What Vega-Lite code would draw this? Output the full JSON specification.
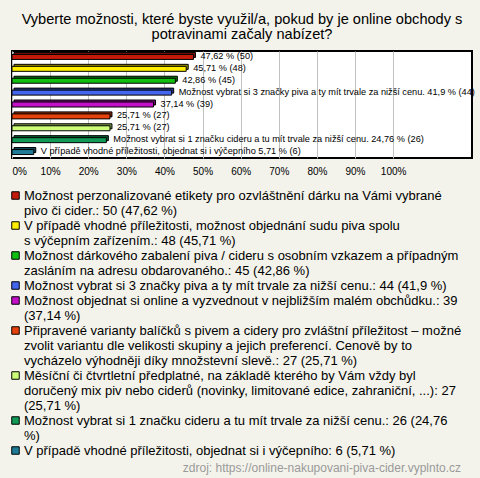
{
  "$schema": "https://vega.github.io/schema/vega-lite/v6.json",
  "width": 460,
  "height": 107,
  "padding": {"left": 11, "top": 12, "right": 9, "bottom": 4},
  "background": "#f3f3eb",
  "config": {
    "font": "Liberation Sans",
    "view": {"fill": "#ffffff", "stroke": "#000000", "strokeWidth": 2}
  },
  "title": {
    "text": ["Vyberte možnosti, které byste využil/a, pokud by je online obchody s", "potravinami začaly nabízet?"],
    "fontSize": 14.6,
    "fontWeight": "normal",
    "lineHeight": 14.5,
    "color": "#000000",
    "anchor": "middle",
    "offset": 9.5
  },
  "data": {
    "values": [
      {"legend": "Možnost perzonalizované etikety pro ozvláštnění dárku na Vámi vybrané\npivo či cider.: 50 (47,62 %)", "pct": 47.62, "count": 50, "barLabel": "47,62 % (50)"},
      {"legend": "V případě vhodné příležitosti, možnost objednání sudu piva spolu\ns výčepním zařízením.: 48 (45,71 %)", "pct": 45.71, "count": 48, "barLabel": "45,71 % (48)"},
      {"legend": "Možnost dárkového zabalení piva / cideru s osobním vzkazem a případným\nzasláním na adresu obdarovaného.: 45 (42,86 %)", "pct": 42.86, "count": 45, "barLabel": "42,86 % (45)"},
      {"legend": "Možnost vybrat si 3 značky piva a ty mít trvale za nižší cenu.: 44 (41,9 %)", "pct": 41.9, "count": 44, "barLabel": "Možnost vybrat si 3 značky piva a ty mít trvale za nižší cenu. 41,9 % (44)"},
      {"legend": "Možnost objednat si online a vyzvednout v nejbližším malém obchůdku.: 39\n(37,14 %)", "pct": 37.14, "count": 39, "barLabel": "37,14 % (39)"},
      {"legend": "Připravené varianty balíčků s pivem a cidery pro zvláštní příležitost – možné\nzvolit variantu dle velikosti skupiny a jejich preferencí. Cenově by to\nvycházelo výhodněji díky množstevní slevě.: 27 (25,71 %)", "pct": 25.71, "count": 27, "barLabel": "25,71 % (27)"},
      {"legend": "Měsíční či čtvrtletní předplatné, na základě kterého by Vám vždy byl\ndoručený mix piv nebo ciderů (novinky, limitované edice, zahraniční, ...): 27\n(25,71 %)", "pct": 25.71, "count": 27, "barLabel": "25,71 % (27)"},
      {"legend": "Možnost vybrat si 1 značku cideru a tu mít trvale za nižší cenu.: 26 (24,76\n%)", "pct": 24.76, "count": 26, "barLabel": "Možnost vybrat si 1 značku cideru a tu mít trvale za nižší cenu. 24,76 % (26)"},
      {"legend": "V případě vhodné příležitosti, objednat si i výčepního: 6 (5,71 %)", "pct": 5.71, "count": 6, "barLabel": "V případě vhodné příležitosti, objednat si i výčepního 5,71 % (6)"}
    ]
  },
  "encoding": {
    "y": {"field": "legend", "type": "nominal", "sort": null, "axis": null,
          "scale": {"paddingInner": 0, "paddingOuter": 0}}
  },
  "layer": [
    {
      "mark": {"type": "bar", "size": 5, "yOffset": -2, "xOffset": 2, "stroke": "#000000", "strokeWidth": 1},
      "encoding": {
        "x": {"field": "pct", "type": "quantitative",
              "scale": {"domain": [0, 120.7], "nice": false, "zero": true},
              "axis": {"values": [0, 10, 20, 30, 40, 50, 60, 70, 80, 90, 100], "labelExpr": "datum.value + '%'",
                       "title": null, "domain": false, "ticks": false, "grid": true, "gridColor": "#c0c0c0",
                       "labelFontSize": 10, "labelColor": "#000000", "labelPadding": 8, "labelFlush": true}},
        "color": {"field": "legend", "type": "nominal", "sort": null,
                  "scale": {"range": ["#c41a0a", "#ffee00", "#11c011", "#4466ee", "#c411c8", "#e8420c", "#ccff77", "#119955", "#1f7a96"]},
                  "legend": {"orient": "bottom", "direction": "vertical", "columns": 1,
                             "title": "zdroj: https://online-nakupovani-piva-cider.vyplnto.cz",
                             "titleOrient": "bottom", "titleAnchor": "end", "titleFontSize": 12, "titleFontWeight": "normal",
                             "titleColor": "#9a9a9a", "titlePadding": 5, "titleLimit": 1000,
                             "labelExpr": "split(datum.label, '\\n')", "labelFontSize": 13, "labelColor": "#000000",
                             "labelLimit": 1000, "labelBaseline": "middle", "labelOffset": 2, "labelLineHeight": 15,
                             "symbolType": "square", "symbolSize": 56, "symbolStrokeColor": "#000000", "symbolStrokeWidth": 1,
                             "symbolOpacity": 1, "symbolOffset": -3,
                             "rowPadding": 1, "offset": 13, "padding": 0}}
      }
    },
    {
      "mark": {"type": "bar", "size": 5, "yOffset": -2, "xOffset": 2, "fill": "#000000", "fillOpacity": 0.4},
      "encoding": {
        "x": {"field": "pct", "type": "quantitative"}
      }
    },
    {
      "mark": {"type": "bar", "size": 5, "stroke": "#000000", "strokeWidth": 1},
      "encoding": {
        "x": {"field": "pct", "type": "quantitative"},
        "color": {"field": "legend", "type": "nominal", "sort": null}
      }
    },
    {
      "mark": {"type": "text", "align": "left", "baseline": "middle", "dx": 7, "dy": -1, "fontSize": 9.2, "color": "#000000"},
      "encoding": {
        "x": {"field": "pct", "type": "quantitative"},
        "text": {"field": "barLabel"}
      }
    }
  ]
}
